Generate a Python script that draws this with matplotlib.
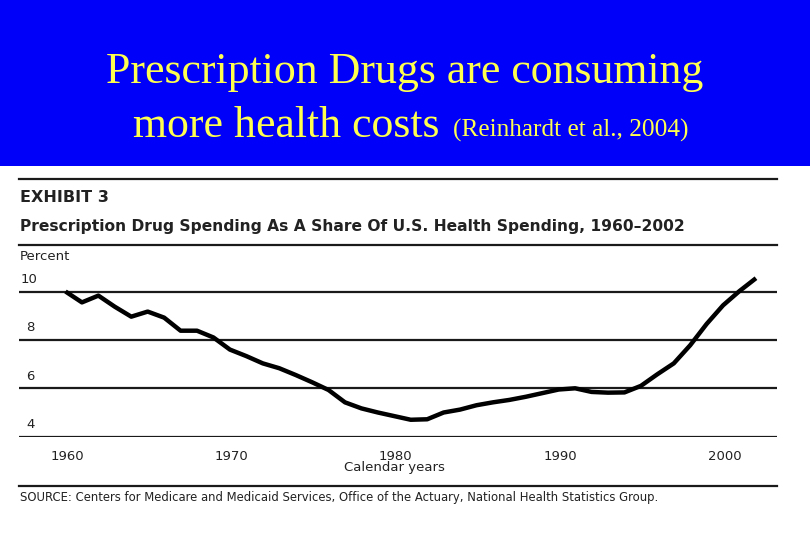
"""
Slide: prescription drug spending as a share of U.S. health spending
"""
import matplotlib.pyplot as plt
from matplotlib.patches import Rectangle

years = list(range(1960, 2003))
share = [10.0, 9.55, 9.83, 9.37, 8.96, 9.17, 8.92, 8.38, 8.38, 8.1,
         7.6, 7.33, 7.03, 6.83, 6.55, 6.25, 5.93, 5.42, 5.17, 5.0,
         4.85, 4.7, 4.72, 5.0, 5.12, 5.3, 5.42, 5.52, 5.65, 5.8,
         5.95, 6.0, 5.85, 5.82, 5.83, 6.1, 6.58, 7.03, 7.78, 8.66,
         9.43, 10.02, 10.55]
y_ticks = [10, 8, 6, 4]
x_ticks = [1960, 1970, 1980, 1990, 2000]

W, H = 810, 540
sans = ['DejaVu Sans']
serif = ['Liberation Serif', 'DejaVu Serif']


def fy(px):
    # pixel row from top -> figure fraction
    return 1 - px / H


fig = plt.figure(figsize=(W / 100, H / 100), dpi=100)
fig.patch.set_facecolor('white')

# blue header band
fig.patches.append(Rectangle((0, fy(166)), 1, 166 / H, transform=fig.transFigure,
                             facecolor='#0000FA', edgecolor='none', zorder=0))
fig.text(0.5, fy(72), "Prescription Drugs are consuming", color='#FFFF50',
         family=serif, fontsize=31.6, ha='center', va='center')
fig.text(133 / W, fy(126), "more health costs", color='#FFFF50',
         family=serif, fontsize=31.6, ha='left', va='center')
fig.text(453 / W, fy(130), "(Reinhardt et al., 2004)", color='#FFFF50',
         family=serif, fontsize=18.2, ha='left', va='center')

# exhibit rules and headings
for row in (179, 245, 486):
    fig.add_artist(plt.Line2D([19 / W, 777 / W], [fy(row), fy(row)],
                              color='#1a1a1a', lw=1.6))
fig.text(20 / W, fy(197), "EXHIBIT 3", family=sans, fontsize=11.5,
         fontweight='bold', color='#222222', va='center')
fig.text(20 / W, fy(226), "Prescription Drug Spending As A Share Of U.S. Health Spending, 1960\u20132002",
         family=sans, fontsize=11.15, fontweight='bold', color='#222222', va='center')
fig.text(20 / W, fy(257), "Percent", family=sans, fontsize=9.5,
         color='#222222', va='center')
fig.text(20 / W, fy(498), "SOURCE: Centers for Medicare and Medicaid Services, Office of the Actuary, "
         "National Health Statistics Group.", family=sans, fontsize=8.4,
         color='#222222', va='center')

# plot area: 1960 at x=65.5px, 16.44 px per year; 4 at y=436.7, 24.2 px per unit
x0 = 1960 - (65.5 - 19) / 16.44
x1 = 1960 + (777 - 65.5) / 16.44
ax = fig.add_axes([19 / W, fy(436.7), (777 - 19) / W, 6.8 * 24.2 / H])
ax.set_xlim(x0, x1)
ax.set_ylim(4, 10.8)
ax.axis('off')

for v in y_ticks:
    ax.axhline(v, color='#1a1a1a', lw=1.6, zorder=1)
    ax.annotate(str(v), xy=(0.0, v), xycoords=('axes fraction', 'data'),
                xytext=(1 if v == 10 else 5, 4), textcoords='offset points',
                family=sans, fontsize=9.5, color='#222222', va='bottom', ha='left')

for yr in x_ticks:
    ax.annotate(str(yr), xy=(yr, 4), xycoords='data',
                xytext=(1, -14), textcoords='offset points',
                family=sans, fontsize=9.5, color='#222222', va='center', ha='center')
ax.annotate("Calendar years", xy=(1980, 4), xycoords='data',
            xytext=(0, -22.5), textcoords='offset points',
            family=sans, fontsize=9.5, color='#222222', va='center', ha='center')

ax.plot(years, share, color='black', lw=3.2, solid_capstyle='butt', zorder=3,
        clip_on=False)

fig.savefig('out.png', dpi=100)
